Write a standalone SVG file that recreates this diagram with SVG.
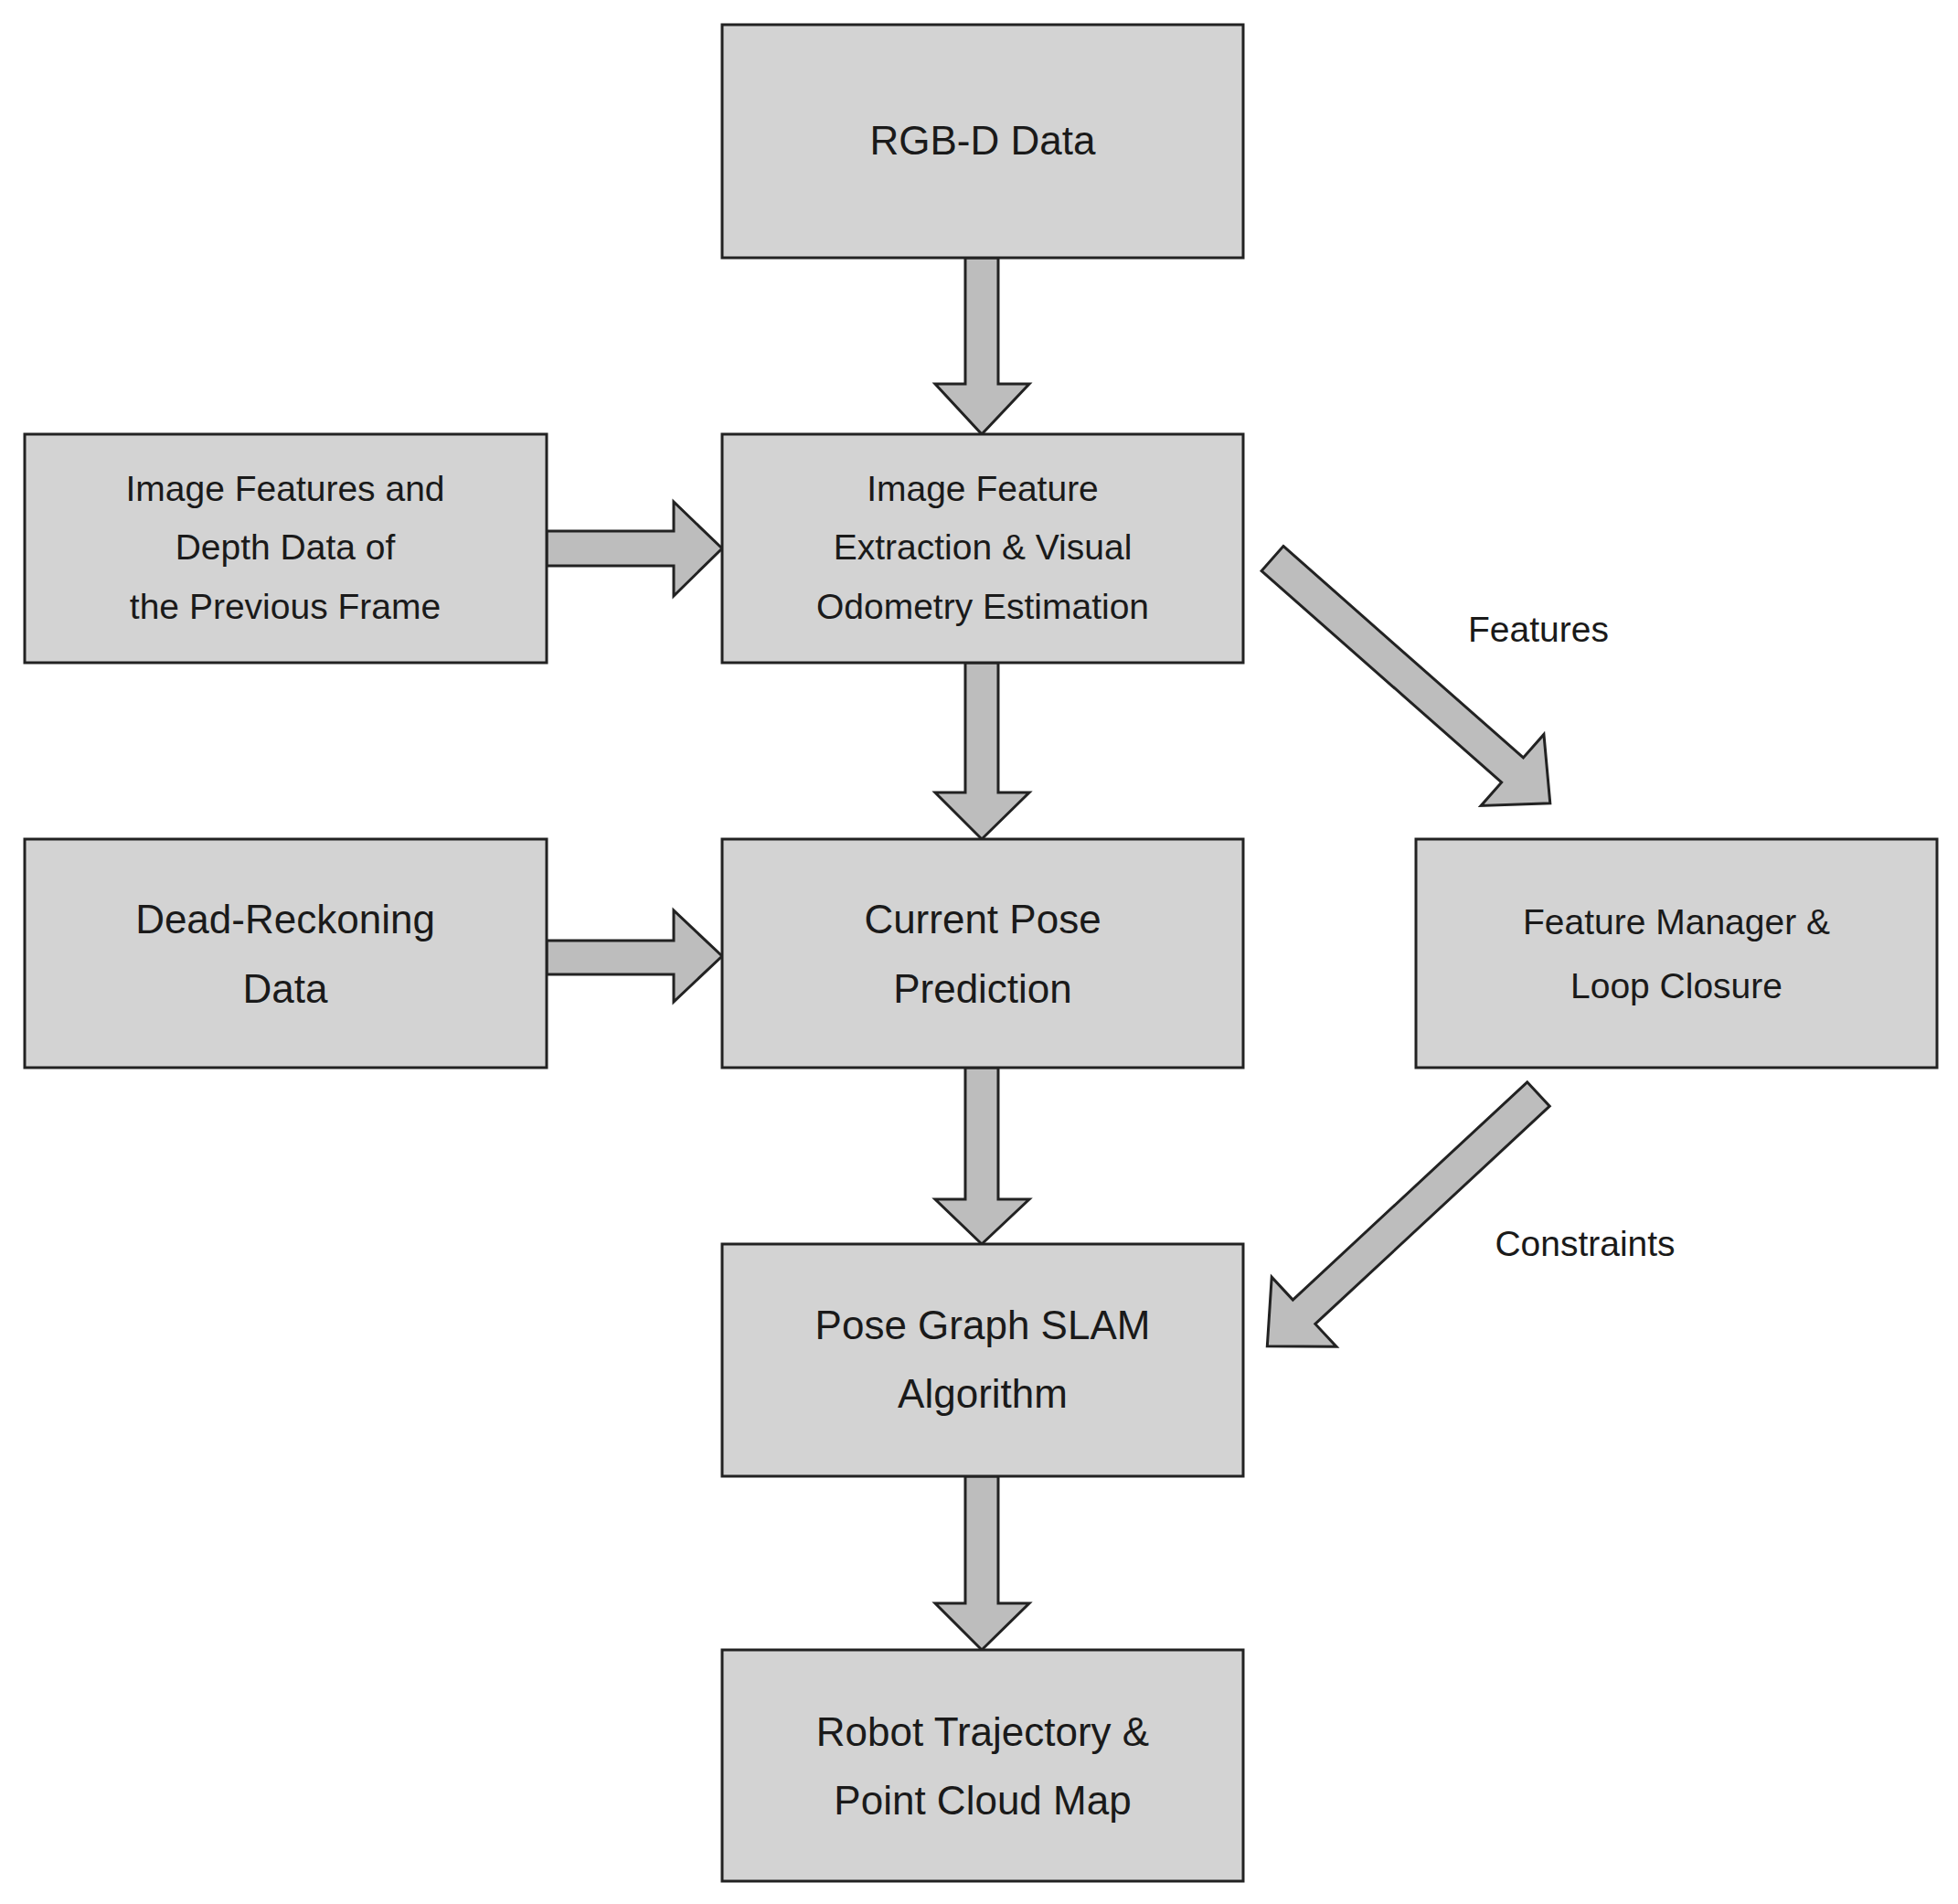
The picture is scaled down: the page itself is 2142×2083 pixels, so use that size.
<svg xmlns="http://www.w3.org/2000/svg" width="2142" height="2083" viewBox="0 0 2142 2083">
<style>
.b{fill:#d3d3d3;stroke:#222;stroke-width:3}
.a{fill:#bdbdbd;stroke:#222;stroke-width:3;stroke-linejoin:miter}
text{font-family:"Liberation Sans",Arial,sans-serif;fill:#1a1a1a;text-anchor:middle;dominant-baseline:central}
.l{font-size:44px}.s{font-size:39px}
</style>
<rect width="2142" height="2083" fill="#fff"/>
<g id="connectors">
<polygon class="a" points="1056,282 1092,282 1092,420 1126,420 1074,475 1023,420 1056,420"/>
<polygon class="a" points="1056,725 1092,725 1092,867 1126,867 1074,918 1023,867 1056,867"/>
<polygon class="a" points="1056,1168 1092,1168 1092,1312 1126,1312 1074,1361 1023,1312 1056,1312"/>
<polygon class="a" points="1056,1615 1092,1615 1092,1754 1126,1754 1074,1805 1023,1754 1056,1754"/>
<polygon class="a" points="598,581 737,581 737,549 790,600 737,652 737,619 598,619"/>
<polygon class="a" points="598,1029 737,1029 737,996 790,1046 737,1096 737,1066 598,1066"/>
<polygon class="a" transform="translate(1392,611) rotate(41.4)" points="0,-18 350,-18 350,-52 405,0 350,52 350,18 0,18"/>
<polygon class="a" transform="translate(1683,1197) rotate(137.1)" points="0,-18 350,-18 350,-52 405,0 350,52 350,18 0,18"/>
<text class="s" x="1683" y="688">Features</text>
<text class="s" x="1734" y="1360">Constraints</text>
</g>
<g id="rgbd"><rect class="b" x="790" y="27" width="570" height="255"/><text class="l" x="1075" y="153">RGB-D Data</text></g>
<g id="prev"><rect class="b" x="27" y="475" width="571" height="250"/><text class="s" x="312" y="534">Image Features and</text><text class="s" x="312" y="598">Depth Data of</text><text class="s" x="312" y="663">the Previous Frame</text></g>
<g id="extract"><rect class="b" x="790" y="475" width="570" height="250"/><text class="s" x="1075" y="534">Image Feature</text><text class="s" x="1075" y="598">Extraction &amp; Visual</text><text class="s" x="1075" y="663">Odometry Estimation</text></g>
<g id="dead"><rect class="b" x="27" y="918" width="571" height="250"/><text class="l" x="312" y="1005">Dead-Reckoning</text><text class="l" x="312" y="1081">Data</text></g>
<g id="pose"><rect class="b" x="790" y="918" width="570" height="250"/><text class="l" x="1075" y="1005">Current Pose</text><text class="l" x="1075" y="1081">Prediction</text></g>
<g id="fm"><rect class="b" x="1549" y="918" width="570" height="250"/><text class="s" x="1834" y="1008">Feature Manager &amp;</text><text class="s" x="1834" y="1078">Loop Closure</text></g>
<g id="slam"><rect class="b" x="790" y="1361" width="570" height="254"/><text class="l" x="1075" y="1449">Pose Graph SLAM</text><text class="l" x="1075" y="1524">Algorithm</text></g>
<g id="map"><rect class="b" x="790" y="1805" width="570" height="253"/><text class="l" x="1075" y="1894">Robot Trajectory &amp;</text><text class="l" x="1075" y="1969">Point Cloud Map</text></g>
</svg>
